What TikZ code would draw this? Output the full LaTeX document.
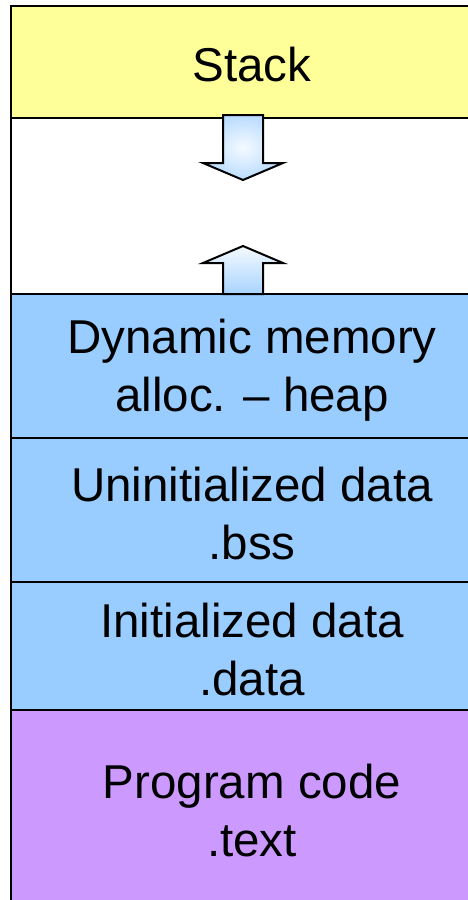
\documentclass[tikz,border=0pt]{standalone}
\usepackage{fontspec}
\setmainfont{Liberation Sans}
\definecolor{stackc}{HTML}{FFFF99}
\definecolor{heapc}{HTML}{99CCFF}
\definecolor{codec}{HTML}{CC99FF}
\definecolor{arrlight}{HTML}{F4FAFF}
\definecolor{arrblue}{HTML}{A8D3FF}
\begin{document}
\begin{tikzpicture}[x=1pt,y=-1pt,
  seg/.style={draw=black,line width=2pt},
  lbl/.style={align=center,font=\fontsize{47.5}{58}\selectfont,inner sep=0pt},
  arr/.style={draw=black,line width=2pt,line join=miter}]
\useasboundingbox (0,0) rectangle (468,900);
\begin{scope}
\clip (0,0) rectangle (468,900);
% segments
\path[fill=stackc,seg] (11,6) rectangle (500,118);
\path[fill=white,seg] (11,118) rectangle (500,294);
\path[fill=heapc,seg] (11,294) rectangle (500,438);
\path[fill=heapc,seg] (11,438) rectangle (500,582);
\path[fill=heapc,seg] (11,582) rectangle (500,710);
\path[fill=codec,seg] (11,710) rectangle (500,910);
% arrows
\path[arr,inner color=arrlight,outer color=arrblue!80]
  (223,115) -- (263,115) -- (263,163) -- (283,163) -- (243,180) -- (203,163) -- (223,163) -- cycle;
\path[arr,top color=arrlight,bottom color=arrblue]
  (223,294) -- (263,294) -- (263,263) -- (283,263) -- (243,246) -- (203,263) -- (223,263) -- cycle;
\end{scope}
% labels
\node[lbl] (stack) at (252,64.5) {Stack};
\node[lbl] (heap) at (252,370) {Dynamic memory\\alloc. – heap};
\node[lbl] (bss) at (252,514) {Uninitialized data\\.bss};
\node[lbl] (data) at (252,650) {Initialized data\\.data};
\node[lbl] (text) at (252,811) {Program code\\.text};
\end{tikzpicture}
\end{document}
